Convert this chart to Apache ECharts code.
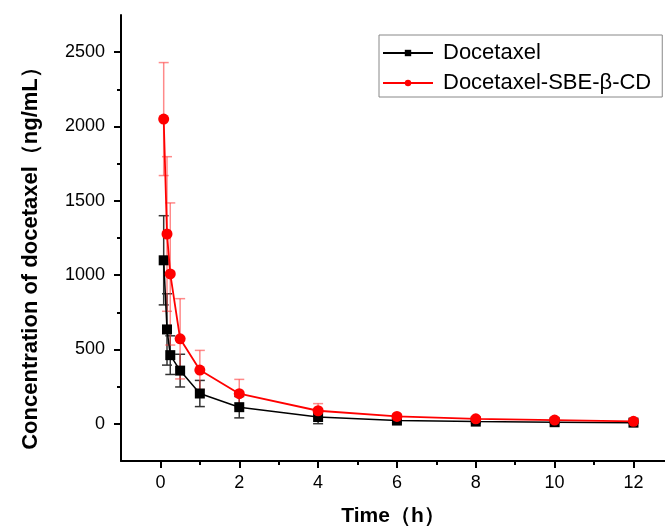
<!DOCTYPE html>
<html>
<head>
<meta charset="utf-8">
<script src="https://cdn.jsdelivr.net/npm/echarts@6/dist/echarts.min.js"></script>
<style>
  html, body { margin: 0; padding: 0; background: #fff; }
  #main { width: 665px; height: 532px; }
</style>
</head>
<body>
<div id="main"></div>
<script>
// sampling times (h)
var timeH = [0.083, 0.167, 0.25, 0.5, 1, 2, 4, 6, 8, 10, 12];
// Docetaxel mean / SD (ng/mL)
var docMean = [1100, 635, 462, 358, 204, 112, 46, 22, 15, 11, 8];
var docSD = [300, 240, 130, 110, 88, 72, 45, 12, 10, 6, 5];
// Docetaxel-SBE-β-CD mean / SD (ng/mL)
var sbeMean = [2050, 1277, 1008, 572, 362, 203, 88, 50, 34, 25, 17];
var sbeSD = [380, 520, 478, 270, 132, 96, 48, 15, 10, 8, 6];
// ticks
var xMajor = [0, 2, 4, 6, 8, 10, 12];
var xMinor = [1, 3, 5, 7, 9, 11];
var yMajor = [0, 500, 1000, 1500, 2000, 2500];
var yMinor = [250, 750, 1250, 1750, 2250];

var chart = echarts.init(document.getElementById('main'));

function pts(xs, ys) {
    return xs.map(function (x, i) { return [x, ys[i]]; });
}
function bars(xs, m, sd) {
    return xs.map(function (x, i) { return [x, m[i] - sd[i], m[i] + sd[i]]; });
}
// vertical error bar with caps
function errRender(color) {
    return function (params, api) {
        var x = api.value(0);
        var lo = api.coord([x, api.value(1)]);
        var hi = api.coord([x, api.value(2)]);
        var w = 5;
        var st = { stroke: color, lineWidth: 1.5 };
        return {
            type: 'group',
            children: [
                { type: 'line', shape: { x1: hi[0], y1: hi[1], x2: lo[0], y2: lo[1] }, style: st },
                { type: 'line', shape: { x1: hi[0] - w, y1: hi[1], x2: hi[0] + w, y2: hi[1] }, style: st },
                { type: 'line', shape: { x1: lo[0] - w, y1: lo[1], x2: lo[0] + w, y2: lo[1] }, style: st }
            ]
        };
    };
}

var font = 'Arial, "Liberation Sans", sans-serif';
var plain = function (v) { return String(v); };

var option = {
    backgroundColor: '#fff',
    animation: false,
    textStyle: { fontFamily: font },
    grid: { left: 121, right: 0, top: 15, bottom: 71 },
    legend: {
        orient: 'vertical',
        left: 379,
        top: 35,
        data: ['Docetaxel', 'Docetaxel-SBE-β-CD'],
        itemWidth: 50,
        itemHeight: 8,
        itemGap: 8,
        padding: [7, 11, 3, 3],
        borderColor: '#888',
        borderWidth: 1,
        borderRadius: 0,
        textStyle: { fontSize: 22, color: '#000', fontFamily: font, lineHeight: 22, padding: [0, 0, 0, 5] }
    },
    xAxis: [{
        type: 'value', min: -1, max: 12.8,
        name: 'Time（h）', nameLocation: 'middle', nameGap: 45,
        nameTextStyle: { fontSize: 21, fontWeight: 'bold', color: '#000', fontFamily: font },
        axisLine: { onZero: false, lineStyle: { color: '#000', width: 2 } },
        axisTick: { customValues: xMajor, length: 7, lineStyle: { color: '#000', width: 2 } },
        axisLabel: { customValues: xMajor, formatter: plain, fontSize: 18, color: '#000', margin: 13, fontFamily: font },
        splitLine: { show: false }
    }, {
        type: 'value', min: -1, max: 12.8, position: 'bottom',
        axisLine: { show: false, onZero: false },
        axisTick: { customValues: xMinor, length: 4, lineStyle: { color: '#000', width: 2 } },
        axisLabel: { show: false },
        splitLine: { show: false }
    }],
    yAxis: [{
        type: 'value', min: -250, max: 2750,
        name: 'Concentration of docetaxel（ng/mL）', nameLocation: 'middle', nameGap: 79,
        nameTextStyle: { fontSize: 22, fontWeight: 'bold', color: '#000', fontFamily: font, padding: [0, 30, 0, 0] },
        axisLine: { onZero: false, lineStyle: { color: '#000', width: 2 } },
        axisTick: { customValues: yMajor, length: 7, lineStyle: { color: '#000', width: 2 } },
        axisLabel: { customValues: yMajor, formatter: plain, fontSize: 18, color: '#000', margin: 16, fontFamily: font },
        splitLine: { show: false }
    }, {
        type: 'value', min: -250, max: 2750, position: 'left',
        axisLine: { show: false, onZero: false },
        axisTick: { customValues: yMinor, length: 4, lineStyle: { color: '#000', width: 2 } },
        axisLabel: { show: false },
        splitLine: { show: false }
    }],
    series: [
        {
            type: 'custom', renderItem: errRender('#333'), data: bars(timeH, docMean, docSD),
            encode: { x: 0, y: [1, 2] }, z: 1, silent: true
        },
        {
            type: 'custom', renderItem: errRender('rgba(255,60,60,0.6)'), data: bars(timeH, sbeMean, sbeSD),
            encode: { x: 0, y: [1, 2] }, z: 1, silent: true
        },
        {
            name: 'Docetaxel', type: 'line', data: pts(timeH, docMean),
            symbol: 'rect', symbolSize: 10, color: '#000',
            lineStyle: { color: '#000', width: 1.5 }, z: 3
        },
        {
            name: 'Docetaxel-SBE-β-CD', type: 'line', data: pts(timeH, sbeMean),
            symbol: 'circle', symbolSize: 11, color: '#ff0000',
            lineStyle: { color: '#ff0000', width: 1.8 }, z: 4
        }
    ]
};

chart.setOption(option);
</script>
</body>
</html>
